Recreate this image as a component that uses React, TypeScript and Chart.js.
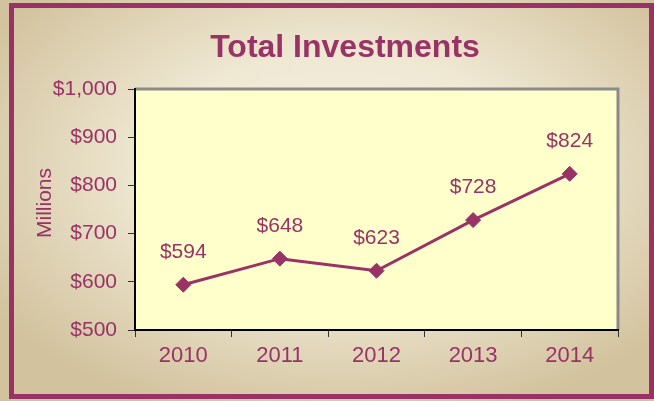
import React, { useEffect, useRef } from "react";
import { Chart, registerables } from "chart.js";

Chart.register(...registerables);

const years = ["2010", "2011", "2012", "2013", "2014"];
const investments = [594, 648, 623, 728, 824];
const yTickValues = [500, 600, 700, 800, 900, 1000];
const titleText = "Total Investments";
const yAxisLabel = "Millions";

const MAROON = "#993366";
const FONT = "'Liberation Sans', Arial, sans-serif";

const fmt = (v: number) => "$" + v.toLocaleString("en-US");

const decorPlugin = {
  id: "decor",
  beforeDraw(chart: any) {
    const { ctx, width, height, chartArea } = chart;
    ctx.save();
    const cx = 340, cy = 170;
    ctx.save();
    ctx.translate(cx, cy);
    ctx.scale(1.6, 1);
    const g = ctx.createRadialGradient(0, 0, 0, 0, 0, 260);
    g.addColorStop(0, "#F6F2E4");
    g.addColorStop(0.45, "#EFE8D3");
    g.addColorStop(1, "#D2C29D");
    ctx.fillStyle = g;
    ctx.fillRect(-cx / 1.6, -cy, width / 1.6, height);
    ctx.restore();
    ctx.strokeStyle = MAROON;
    ctx.lineWidth = 5;
    ctx.strokeRect(11.5, 5.5, 640, 391);
    ctx.fillStyle = "#FFFFCC";
    ctx.fillRect(chartArea.left, chartArea.top, chartArea.right - chartArea.left, chartArea.bottom - chartArea.top);
    ctx.strokeStyle = "#8A8A8A";
    ctx.lineWidth = 3;
    ctx.beginPath();
    ctx.moveTo(chartArea.left, chartArea.top);
    ctx.lineTo(chartArea.right, chartArea.top);
    ctx.lineTo(chartArea.right, chartArea.bottom);
    ctx.stroke();
    ctx.restore();
  },
  afterDraw(chart: any) {
    const { ctx } = chart;
    ctx.save();
    ctx.fillStyle = MAROON;
    ctx.textAlign = "center";
    ctx.textBaseline = "alphabetic";
    ctx.font = `bold 32px ${FONT}`;
    ctx.fillText(titleText, 345, 57);
    ctx.font = `21px ${FONT}`;
    ctx.save();
    ctx.translate(51, 203);
    ctx.rotate(-Math.PI / 2);
    ctx.fillText(yAxisLabel, 0, 0);
    ctx.restore();
    const meta = chart.getDatasetMeta(0);
    meta.data.forEach((pt: any, i: number) => {
      ctx.fillText(fmt(investments[i]), pt.x, pt.y - 27);
    });
    ctx.restore();
  },
};

export default function App() {
  const ref = useRef<HTMLCanvasElement>(null);
  useEffect(() => {
    if (!ref.current) return;
    const chart = new Chart(ref.current, {
      type: "line",
      data: {
        labels: years,
        datasets: [
          {
            data: investments,
            borderColor: MAROON,
            backgroundColor: MAROON,
            borderWidth: 3,
            pointStyle: "rectRot",
            pointRadius: 7.5,
            pointBorderWidth: 1,
            pointBackgroundColor: MAROON,
            pointBorderColor: MAROON,
            tension: 0,
          },
        ],
      },
      options: {
        responsive: false,
        animation: false,
        layout: { padding: { top: 89, right: 36, left: 0, bottom: 0 } },
        plugins: { legend: { display: false }, tooltip: { enabled: false }, title: { display: false } },
        scales: {
          x: {
            type: "category",
            offset: true,
            grid: { offset: true, drawOnChartArea: false, drawTicks: true, tickLength: 7, color: "#333", lineWidth: 1 },
            border: { display: true, color: "#000", width: 2 },
            ticks: { color: MAROON, font: { family: FONT, size: 22 }, padding: 6, maxRotation: 0 },
            afterFit: (s: any) => { s.height = 71; },
          },
          y: {
            min: 500,
            max: 1000,
            afterBuildTicks: (s: any) => { s.ticks = yTickValues.map((v) => ({ value: v })); },
            grid: { drawOnChartArea: false, drawTicks: true, tickLength: 7, color: "#333", lineWidth: 1 },
            border: { display: true, color: "#000", width: 2 },
            ticks: { color: MAROON, font: { family: FONT, size: 21 }, padding: 11, callback: (v: any) => fmt(Number(v)) },
            afterFit: (s: any) => { s.width = 135; },
          },
        },
      },
      plugins: [decorPlugin],
    });
    return () => chart.destroy();
  }, []);
  return (
    <div style={{ position: "fixed", left: 0, top: 0, width: 654, height: 401 }}>
      <canvas ref={ref} width={654} height={401} style={{ display: "block" }} />
    </div>
  );
}
